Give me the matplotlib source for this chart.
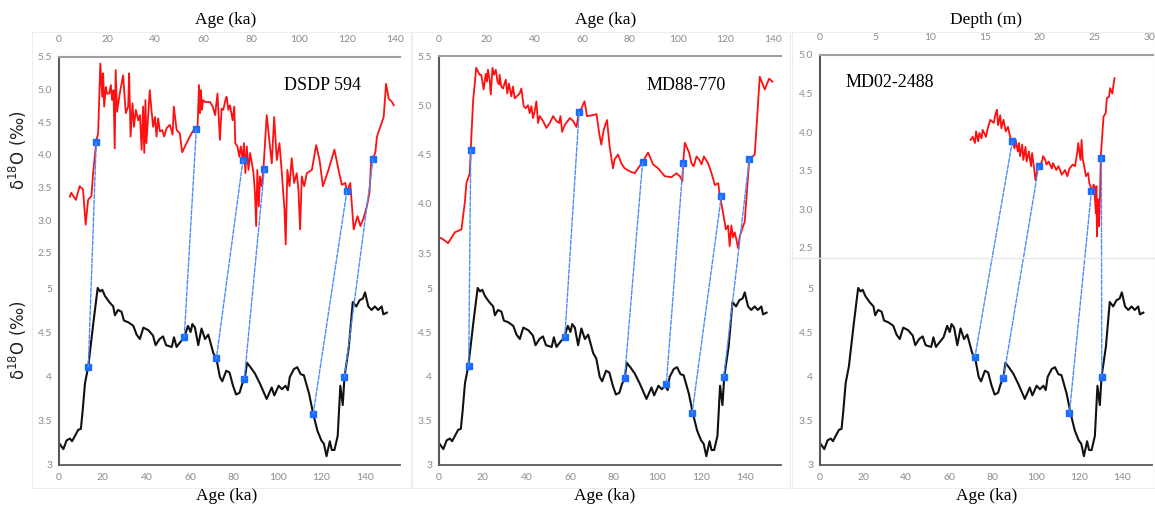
import matplotlib
matplotlib.use("Agg")
import matplotlib.pyplot as plt
from matplotlib.patches import ConnectionPatch, Rectangle
from matplotlib.lines import Line2D

# reference stack (black), ka vs d18O
ref_age = [0, 2, 3.5, 5, 6, 8.8, 10, 10.8, 11.9, 13.4, 15.7, 17.7, 18.8, 19.8, 21,
           23, 24.8, 25.6, 27, 28.6, 29.7, 31.7, 34, 35.5, 37, 38.6, 40.9, 43, 44.2, 46,
           47.6, 49, 51.6, 52.6, 53.8, 55, 57.3, 59, 60.2, 61, 62.2, 63.7, 65.2, 66.8, 68.3,
           70.6, 72, 73.6, 74.7, 76.5, 78, 79.6, 81, 82.6, 83.8, 85, 86, 87.6, 89.6, 92,
           95, 97.3, 98.5, 100.5, 102, 103.6, 104.7, 105.6, 107.5, 109, 110.6, 112, 114.4, 116.3, 118.2,
           120, 121.2, 122.4, 123.9, 124.8, 126, 127.5, 128.7, 129.8, 130.6, 132.6, 134.4, 136, 137.5, 139,
           140, 141.5, 143, 144.5, 146, 147.6, 148.4, 150]
ref_d18o = [3.25, 3.18, 3.28, 3.30, 3.27, 3.40, 3.41, 3.61, 3.93, 4.12, 4.61, 5.01, 4.97, 4.99, 4.92,
            4.85, 4.80, 4.70, 4.76, 4.74, 4.64, 4.62, 4.58, 4.48, 4.43, 4.56, 4.53, 4.47, 4.36, 4.43,
            4.46, 4.36, 4.34, 4.45, 4.34, 4.38, 4.45, 4.58, 4.51, 4.60, 4.56, 4.36, 4.55, 4.43, 4.48,
            4.27, 4.21, 4.00, 3.95, 4.07, 4.05, 3.90, 3.80, 3.82, 3.92, 3.98, 4.16, 4.11, 4.04, 3.92,
            3.75, 3.88, 3.79, 3.90, 3.86, 3.90, 3.85, 4.00, 4.09, 4.11, 4.03, 4.02, 3.81, 3.58, 3.39,
            3.28, 3.24, 3.10, 3.27, 3.17, 3.17, 3.33, 3.90, 3.68, 4.00, 4.34, 4.85, 4.80, 4.87, 4.89,
            4.96, 4.80, 4.76, 4.80, 4.76, 4.80, 4.71, 4.73]

# DSDP 594 (red), ka
dsdp_age = [4.5, 5.1, 7, 8.6, 10, 11.1, 12.1, 13.5, 14.2, 15.6, 16.3, 17.2, 18, 18.4, 18.8,
            19.5, 20, 20.9, 21.6, 22.1, 22.7, 23.2, 23.6, 24.2, 25.3, 26.7, 27.8, 28.8, 29.2, 29.8,
            30.6, 31.2, 32, 33, 33.7, 34.4, 35, 35.5, 36, 36.4, 37.1, 37.8, 38.5, 39.2, 40,
            40.6, 41.3, 42, 43, 43.8, 44.8, 46.2, 47.3, 47.8, 49, 50.3, 51.3, 53.1, 55.2, 56.6,
            57.7, 58.3, 58.7, 59.1, 59.5, 60, 60.8, 62.9, 64, 65, 66, 66.6, 67, 67.7, 68.4,
            69.3, 69.8, 70.5, 71.2, 72.3, 73, 73.4, 74.3, 75.1, 75.7, 76.5, 77, 77.6, 78.2, 78.9,
            79.6, 80.3, 81, 81.6, 82.1, 82.6, 83.2, 83.7, 84.4, 85.1, 86.5, 87.6, 88.6, 89.6, 90.7,
            91.8, 92.8, 93.9, 94.4, 95.1, 96, 96.9, 97.9, 99, 99.7, 100.4, 101.1, 102.1, 103.2, 105.3,
            107.1, 108.5, 109.9, 112.2, 114.7, 116.4, 117.8, 119.2, 119.9, 121.3, 122.7, 124.3, 125.5, 126.8, 128.2,
            129.3, 130, 130.7, 131.7, 132.4, 135.2, 136.2, 137.3, 138.7, 139.4]
dsdp_d18o = [3.36, 3.42, 3.31, 3.52, 3.47, 2.93, 3.31, 3.37, 3.72, 4.23, 4.33, 5.40, 4.89, 5.25, 4.74,
             5.04, 4.94, 4.94, 5.07, 4.84, 4.99, 4.10, 5.30, 4.66, 4.94, 5.22, 4.64, 4.74, 5.25, 4.28,
             4.79, 4.43, 4.69, 4.53, 4.61, 4.08, 4.74, 4.03, 4.84, 4.18, 4.58, 4.99, 4.69, 4.43, 4.58,
             4.28, 4.56, 4.36, 4.38, 4.28, 4.41, 4.46, 4.31, 4.74, 4.38, 4.33, 4.04, 4.18, 4.33, 4.41,
             4.43, 5.07, 4.64, 4.99, 4.69, 4.84, 4.81, 4.81, 4.74, 4.61, 4.94, 4.53, 4.23, 4.71, 4.69,
             4.84, 4.89, 4.69, 4.76, 4.53, 4.74, 4.18, 4.13, 3.97, 4.13, 3.92, 4.18, 3.72, 4.13, 3.77,
             4.03, 3.87, 3.72, 3.42, 2.91, 3.77, 3.21, 3.67, 3.52, 3.77, 4.61, 4.23, 3.87, 4.58, 3.92,
             4.18, 3.72, 3.16, 2.63, 3.77, 3.52, 3.95, 3.57, 3.72, 3.47, 2.86, 3.67, 3.52, 3.72, 3.77,
             4.15, 3.92, 3.52, 3.77, 4.08, 3.77, 3.54, 3.57, 3.44, 3.57, 2.86, 3.06, 2.91, 3.03, 3.21,
             3.42, 3.92, 3.95, 4.03, 4.28, 4.58, 5.09, 4.86, 4.81, 4.76]

# MD88-770 (red), ka
md88_age = [0, 1.7, 3.8, 6.6, 9.4, 10.8, 11.5, 12.9, 13.3, 14.3, 15.6, 17, 17.7, 18.7, 19.6,
            20.1, 20.5, 21.2, 21.7, 22.4, 23, 23.8, 24.5, 25.2, 25.4, 26.1, 26.8, 28, 28.6, 29.3,
            30.3, 31, 31.7, 33.8, 34.5, 35.5, 36.3, 37.3, 38, 38.7, 39.4, 40.1, 40.8, 41.5, 42.2,
            43.6, 45, 46.4, 47.8, 49.2, 50.3, 50.9, 51.6, 52.7, 54.8, 56.2, 57.6, 58.7, 59.7, 61,
            62, 64.6, 66, 67.1, 68, 69, 70.4, 71.5, 72.9, 73.6, 75, 76.4, 77.8, 79.9, 82,
            83.4, 85.2, 87.6, 89.7, 91.8, 94.6, 97.4, 99.5, 100.9, 102, 102.3, 103, 104.8, 105.8, 106.7,
            107.9, 109, 110, 111, 112.8, 114.2, 115.6, 117, 117.6, 118.8, 120.2, 121.1, 121.8, 122.5, 123.2,
            123.9, 124.6, 125.3, 126, 128.1, 130, 132.3, 134.4, 136.5, 138.3, 139.7]
md88_d18o = [3.66, 3.64, 3.60, 3.71, 3.74, 4.01, 4.21, 4.31, 4.55, 5.05, 5.38, 5.31, 5.31, 5.16, 5.32,
             5.24, 5.36, 5.26, 5.11, 5.38, 5.31, 5.36, 5.24, 5.21, 5.31, 5.19, 5.17, 5.26, 5.12, 5.22,
             5.09, 5.19, 5.07, 5.12, 5.17, 4.99, 4.97, 5.00, 4.92, 4.99, 4.87, 4.94, 5.04, 4.82, 4.89,
             4.84, 4.77, 4.82, 4.89, 4.84, 4.82, 4.89, 4.73, 4.80, 4.87, 4.84, 4.78, 4.94, 4.97, 5.04,
             4.89, 4.90, 4.91, 4.72, 4.60, 4.75, 4.85, 4.58, 4.36, 4.45, 4.50, 4.41, 4.36, 4.33, 4.31,
             4.36, 4.42, 4.52, 4.40, 4.36, 4.28, 4.27, 4.31, 4.28, 4.23, 4.41, 4.62, 4.52, 4.41, 4.38,
             4.48, 4.45, 4.40, 4.48, 4.41, 4.31, 4.19, 4.21, 4.09, 3.94, 3.74, 3.78, 3.57, 3.78, 3.66,
             3.71, 3.64, 3.55, 3.67, 3.82, 4.45, 4.50, 5.29, 5.16, 5.27, 5.24]

# MD02-2488 (red), depth in m
md02_depth = [13.7, 13.9, 14.1, 14.2, 14.4, 14.5, 14.7, 14.8, 15.1, 15.3, 15.5, 15.8, 16.0, 16.1, 16.2,
              16.4, 16.5, 16.7, 16.9, 17.1, 17.3, 17.5, 17.7, 17.8, 18.0, 18.1, 18.2, 18.4, 18.5, 18.7,
              18.8, 19.0, 19.2, 19.3, 19.5, 19.6, 19.8, 19.9, 20.2, 20.3, 20.5, 20.6, 20.8, 21.1, 21.2,
              21.5, 21.7, 22.0, 22.3, 22.5, 22.7, 23.0, 23.2, 23.4, 23.5, 23.7, 23.8, 23.9, 24.1, 24.2,
              24.4, 24.5, 24.8, 24.9, 25.0, 25.1, 25.15, 25.2, 25.3, 25.4, 25.5, 25.55, 25.8, 26.0, 26.1,
              26.3, 26.4, 26.6, 26.7, 26.8]
md02_d18o = [3.90, 3.94, 3.86, 4.01, 3.88, 3.99, 3.92, 4.03, 3.94, 4.07, 4.16, 4.12, 4.25, 4.29, 4.09,
             4.22, 4.05, 4.16, 4.01, 4.07, 3.94, 3.88, 3.79, 3.90, 3.75, 3.86, 3.69, 3.84, 3.64, 3.81,
             3.62, 3.75, 3.56, 3.73, 3.51, 3.38, 3.53, 3.56, 3.62, 3.69, 3.64, 3.58, 3.62, 3.53, 3.60,
             3.51, 3.56, 3.45, 3.51, 3.43, 3.53, 3.58, 3.56, 3.73, 3.86, 3.64, 3.90, 3.66, 3.51, 3.43,
             3.47, 3.34, 3.23, 3.32, 3.17, 2.95, 3.30, 2.65, 3.13, 2.78, 3.30, 3.69, 4.20, 4.25, 4.44,
             4.46, 4.57, 4.50, 4.61, 4.70]

# tie points: (x on red record, d18O) -> (age on stack, d18O)
dsdp_tie_x = [15.5, 57.2, 76.6, 85.5, 119.9, 130.8]
dsdp_tie_y = [4.20, 4.40, 3.92, 3.78, 3.45, 3.94]
dsdp_ref_x = [13.4, 57.3, 72.0, 84.8, 116.3, 130.6]
dsdp_ref_y = [4.11, 4.45, 4.21, 3.98, 3.58, 4.00]

md88_tie_x = [13.3, 58.7, 85.3, 102.3, 118.3, 130.0]
md88_tie_y = [4.55, 4.93, 4.42, 4.41, 4.08, 4.45]
md88_ref_x = [13.6, 57.6, 85.0, 104.1, 115.9, 130.4]
md88_ref_y = [4.12, 4.45, 3.99, 3.92, 3.59, 4.00]

md02_tie_x = [17.5, 19.9, 24.7, 25.6]
md02_tie_y = [3.88, 3.56, 3.24, 3.67]
md02_ref_x = [71.9, 85.1, 115.7, 130.7]
md02_ref_y = [4.23, 3.99, 3.59, 4.00]

W, H = 1155, 508
fig = plt.figure(figsize=(W / 100, H / 100), dpi=100)
fig.patch.set_facecolor("white")

TICK = "#8c8c8c"
SPINE = "#595959"
BLUE = "#1a6cff"
LINK = "#4a8cff"
SERIF = "Liberation Serif"


def px_axes(l, t, r, b):
    return fig.add_axes([l / W, 1 - b / H, (r - l) / W, (b - t) / H])


def style(ax, top):
    ax.patch.set_visible(False)
    for s in ax.spines.values():
        s.set_visible(False)
    ax.spines["left"].set_visible(True)
    ax.spines["left"].set_color(SPINE)
    ax.spines["left"].set_linewidth(1.5)
    if top:
        ax.spines["top"].set_visible(True)
        ax.spines["top"].set_color("#a0a0a0")
        ax.spines["top"].set_linewidth(1.5)
        ax.xaxis.tick_top()
        ax.tick_params(axis="x", length=0, pad=9)
    else:
        ax.spines["bottom"].set_visible(True)
        ax.spines["bottom"].set_color(SPINE)
        ax.spines["bottom"].set_linewidth(1.3)
        ax.tick_params(axis="x", length=0, pad=6)
    ax.tick_params(axis="y", length=0, pad=5)
    ax.tick_params(labelsize=7.5, labelcolor=TICK)
    for lab in ax.get_xticklabels() + ax.get_yticklabels():
        lab.set_family("Lato")


def ref_axes(l, r, xmax):
    ax = px_axes(l, 258, r, 465)
    ax.plot(ref_age, ref_d18o, color="#111111", lw=1.5)
    ax.set_xlim(0, xmax)
    ax.set_ylim(3, 5.35)
    ax.set_xticks(range(0, 141, 20))
    ax.set_yticks([3, 3.5, 4, 4.5, 5])
    ax.set_yticklabels(["3", "3.5", "4", "4.5", "5"])
    style(ax, False)
    return ax


def link(ax_top, ax_bot, tx, ty, rx, ry):
    for a, b, c, d in zip(tx, ty, rx, ry):
        con = ConnectionPatch(xyA=(a, b), coordsA=ax_top.transData,
                              xyB=(c, d), coordsB=ax_bot.transData,
                              color=LINK, lw=1.0, linestyle=(0, (3, 1.2)))
        fig.add_artist(con)
    ax_top.plot(tx, ty, "s", color=BLUE, ms=4, zorder=5, clip_on=False)
    ax_bot.plot(rx, ry, "s", color=BLUE, ms=4, zorder=5, clip_on=False)


# faint chart frames
for l, r in [(32, 411), (412, 790), (792, 1155)]:
    fig.add_artist(Rectangle((l / W, 1 - 488 / H), (r - l) / W, 456 / H,
                             transform=fig.transFigure, fill=False,
                             ec="#ededed", lw=0.8))
fig.add_artist(Line2D([792 / W, 1], [1 - 258 / H] * 2, transform=fig.transFigure,
                      color="#e6e6e6", lw=1))

# panel 1: DSDP 594
t1 = px_axes(59, 57, 400, 258)
t1.plot(dsdp_age, dsdp_d18o, color="#ff1010", lw=1.3)
t1.set_xlim(0, 142)
t1.set_ylim(2.42, 5.5)
t1.set_xticks(range(0, 141, 20))
t1.set_yticks([2.5, 3.0, 3.5, 4.0, 4.5, 5.0, 5.5])
t1.set_yticklabels(["2.5", "3.0", "3.5", "4.0", "4.5", "5.0", "5.5"])
style(t1, True)
b1 = ref_axes(59, 400, 156)
link(t1, b1, dsdp_tie_x, dsdp_tie_y, dsdp_ref_x, dsdp_ref_y)

# panel 2: MD88-770
t2 = px_axes(439, 56, 781, 258)
t2.plot(md88_age, md88_d18o, color="#ff1010", lw=1.3)
t2.set_xlim(0, 143.3)
t2.set_ylim(3.45, 5.5)
t2.set_xticks(range(0, 141, 20))
t2.set_yticks([3.5, 4.0, 4.5, 5.0, 5.5])
t2.set_yticklabels(["3.5", "4.0", "4.5", "5.0", "5.5"])
style(t2, True)
b2 = ref_axes(439, 781, 156.6)
link(t2, b2, md88_tie_x, md88_tie_y, md88_ref_x, md88_ref_y)

# panel 3: MD02-2488
t3 = px_axes(820, 55, 1153, 258)
t3.plot(md02_depth, md02_d18o, color="#ff1010", lw=1.3)
t3.set_xlim(0, 30.3)
t3.set_ylim(2.37, 5.0)
t3.set_xticks(range(0, 31, 5))
t3.set_yticks([2.5, 3.0, 3.5, 4.0, 4.5, 5.0])
t3.set_yticklabels(["2.5", "3.0", "3.5", "4.0", "4.5", "5.0"])
style(t3, True)
b3 = ref_axes(820, 1152, 154)
link(t3, b3, md02_tie_x, md02_tie_y, md02_ref_x, md02_ref_y)


# texts
def ftext(x, y, s, **kw):
    fig.text(x / W, 1 - y / H, s, ha="center", va="center", **kw)


for x, s in [(226, "Age (ka)"), (606, "Age (ka)"), (986, "Depth (m)")]:
    ftext(x, 20, s, family=SERIF, size=12.5)
for x in [227, 605, 987]:
    ftext(x, 496, "Age (ka)", family=SERIF, size=12.5)
ftext(322, 85, "DSDP 594", family=SERIF, size=13)
ftext(686, 85, "MD88-770", family=SERIF, size=13)
ftext(890, 83, "MD02-2488", family=SERIF, size=13)
ftext(18, 150, "δ$^{18}$O (‰)", size=12, rotation=90, color="#222222")
ftext(18, 340, "δ$^{18}$O (‰)", size=12, rotation=90, color="#222222")

fig.savefig("out.png", dpi=100)
